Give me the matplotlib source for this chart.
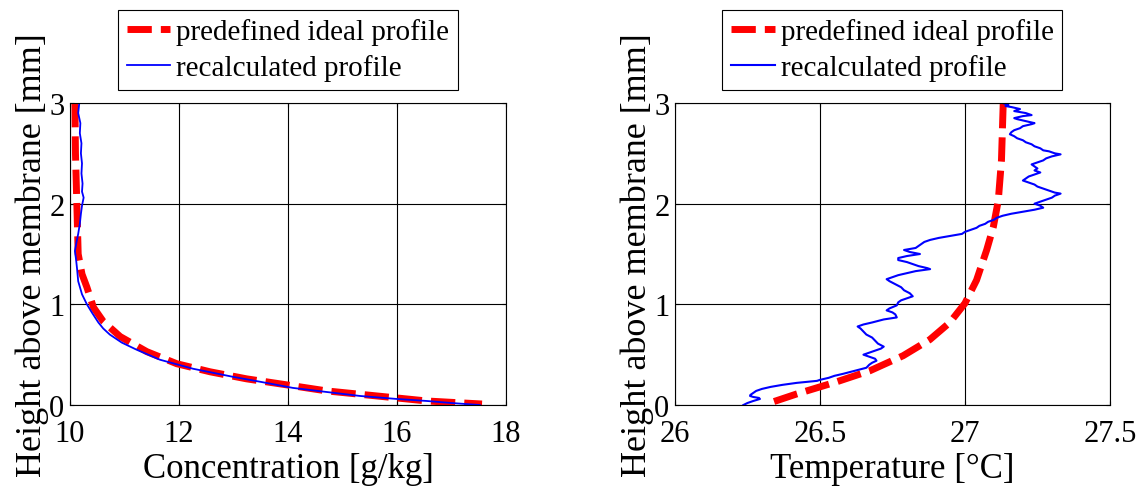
import matplotlib
matplotlib.use("Agg")
import matplotlib.pyplot as plt

plt.rcParams['font.family'] = ['Liberation Serif', 'DejaVu Serif']

# Concentration panel
conc_ideal = [10.09, 10.10, 10.12, 10.15, 10.22, 10.31, 10.43, 10.61, 10.92, 11.41,
              11.96, 12.57, 13.24, 13.98, 14.71, 15.63, 16.55, 17.56]
h_conc_ideal = [3.0, 2.5, 2.1, 1.5, 1.3, 1.17, 0.97, 0.83, 0.68, 0.53,
                0.41, 0.33, 0.26, 0.20, 0.14, 0.09, 0.04, 0.01]

conc_recalc = [10.17, 10.15, 10.19, 10.18, 10.21, 10.20, 10.22, 10.21, 10.23, 10.22,
               10.25, 10.22, 10.20, 10.18, 10.15, 10.12, 10.09, 10.11, 10.13, 10.15,
               10.22, 10.31, 10.40, 10.52, 10.61, 10.73, 10.95, 11.22, 11.65, 12.26,
               12.99, 13.50, 14.09, 14.70, 15.32, 16.00, 16.55, 17.00, 17.52]
h_conc_recalc = [3.0, 2.9, 2.8, 2.7, 2.6, 2.5, 2.4, 2.3, 2.2, 2.12,
                 2.06, 1.98, 1.9, 1.8, 1.7, 1.62, 1.53, 1.45, 1.35, 1.23,
                 1.1, 1.0, 0.92, 0.82, 0.76, 0.70, 0.62, 0.55, 0.45, 0.36,
                 0.28, 0.23, 0.17, 0.13, 0.09, 0.06, 0.04, 0.02, 0.0]

# Temperature panel
temp_ideal = [27.132, 27.126, 27.115, 27.098, 27.075, 27.04, 27.0, 26.948, 26.879,
              26.787, 26.672, 26.557, 26.42, 26.316]
h_temp_ideal = [2.99, 2.43, 2.03, 1.77, 1.54, 1.24, 1.01, 0.82, 0.65,
                0.49, 0.34, 0.23, 0.11, 0.01]

temp_recalc = [27.13, 27.15, 27.14, 27.16, 27.19, 27.17, 27.21, 27.23, 27.20, 27.17,
               27.18, 27.21, 27.24, 27.23, 27.20, 27.19, 27.17, 27.16, 27.155, 27.17,
               27.18, 27.20, 27.21, 27.23, 27.24, 27.26, 27.27, 27.29, 27.31, 27.33,
               27.30, 27.28, 27.27, 27.25, 27.23, 27.24, 27.25, 27.24, 27.26, 27.24,
               27.22, 27.21, 27.20, 27.22, 27.24, 27.25, 27.27, 27.29, 27.31, 27.33,
               27.31, 27.30, 27.28, 27.26, 27.24, 27.26, 27.27, 27.24, 27.20, 27.16,
               27.13, 27.11, 27.10, 27.08, 27.07, 27.05, 27.04, 27.02, 27.00, 26.99,
               26.95, 26.91, 26.88, 26.86, 26.85, 26.84, 26.83, 26.79, 26.81, 26.845,
               26.80, 26.77, 26.77, 26.80, 26.82, 26.84, 26.87, 26.88, 26.83, 26.80,
               26.77, 26.75, 26.73, 26.74, 26.76, 26.78, 26.79, 26.81, 26.82, 26.80,
               26.78, 26.77, 26.765, 26.74, 26.73, 26.75, 26.76, 26.765, 26.72, 26.68,
               26.65, 26.63, 26.64, 26.65, 26.66, 26.68, 26.69, 26.70, 26.72, 26.71,
               26.68, 26.65, 26.67, 26.69, 26.695, 26.68, 26.67, 26.66, 26.62, 26.58,
               26.55, 26.53, 26.50, 26.49, 26.42, 26.37, 26.33, 26.30, 26.28, 26.27,
               26.26, 26.259, 26.27, 26.29, 26.293, 26.27, 26.25, 26.236]
h_temp_recalc = [3.00, 2.98, 2.97, 2.96, 2.94, 2.92, 2.90, 2.88, 2.87, 2.85,
                 2.84, 2.82, 2.80, 2.79, 2.77, 2.75, 2.73, 2.71, 2.69, 2.67,
                 2.65, 2.63, 2.61, 2.59, 2.57, 2.55, 2.53, 2.52, 2.50, 2.49,
                 2.47, 2.45, 2.43, 2.41, 2.39, 2.37, 2.35, 2.33, 2.31, 2.29,
                 2.27, 2.25, 2.23, 2.21, 2.19, 2.17, 2.15, 2.13, 2.11, 2.10,
                 2.08, 2.06, 2.04, 2.02, 2.00, 1.98, 1.96, 1.94, 1.92, 1.90,
                 1.88, 1.86, 1.84, 1.82, 1.80, 1.78, 1.76, 1.74, 1.72, 1.70,
                 1.68, 1.66, 1.64, 1.62, 1.60, 1.58, 1.56, 1.54, 1.52, 1.50,
                 1.48, 1.46, 1.44, 1.42, 1.40, 1.38, 1.36, 1.35, 1.33, 1.31,
                 1.29, 1.27, 1.25, 1.23, 1.20, 1.17, 1.14, 1.11, 1.08, 1.06,
                 1.04, 1.02, 0.99, 0.96, 0.94, 0.92, 0.90, 0.87, 0.85, 0.82,
                 0.80, 0.78, 0.76, 0.73, 0.70, 0.67, 0.64, 0.61, 0.58, 0.56,
                 0.53, 0.50, 0.48, 0.46, 0.44, 0.42, 0.40, 0.37, 0.34, 0.31,
                 0.29, 0.27, 0.25, 0.24, 0.22, 0.20, 0.18, 0.16, 0.14, 0.12,
                 0.10, 0.09, 0.08, 0.07, 0.06, 0.04, 0.02, 0.00]

conc_ticks = [10, 12, 14, 16, 18]
temp_ticks = [26, 26.5, 27, 27.5]
temp_ticklabels = ["26", "26.5", "27", "27.5"]
h_ticks = [0, 1, 2, 3]

fig = plt.figure(figsize=(11.44, 4.89), dpi=100)
ax1 = fig.add_axes([0.0612, 0.1697, 0.3811, 0.6176])
ax2 = fig.add_axes([0.590, 0.1697, 0.3802, 0.6176])


def style_axes(ax, xticks, xlabels, xlabel):
    ax.set_ylim(0, 3)
    ax.set_yticks(h_ticks)
    ax.set_xticks(xticks)
    ax.set_xticklabels(xlabels)
    ax.grid(True, color='black', linestyle='-', linewidth=0.8)
    ax.set_axisbelow(True)
    ax.tick_params(direction='in', length=3, width=0.8, top=True, right=True,
                   labelsize=22)
    ax.tick_params(axis='x', pad=10)
    ax.tick_params(axis='y', pad=4)
    for s in ax.spines.values():
        s.set_linewidth(0.8)
        s.set_color('black')
    ax.set_xlabel(xlabel, fontsize=25, labelpad=3)
    ax.set_ylabel("Height above membrane [mm]", fontsize=26, labelpad=0)
    leg = ax.legend(loc='lower center', bbox_to_anchor=(0.5, 1.0), fontsize=21,
                    fancybox=False, edgecolor='black', framealpha=1,
                    handlelength=1.5, handletextpad=0.2, borderpad=0.3,
                    labelspacing=0.3, borderaxespad=0.45)
    leg.get_frame().set_linewidth(0.8)


ax1.plot(conc_ideal, h_conc_ideal, color='red', linewidth=5, linestyle=(0, (3.5, 1.3)),
         label='predefined ideal profile')
ax1.plot(conc_recalc, h_conc_recalc, color='blue', linewidth=1.3, label='recalculated profile')
ax1.set_xlim(10, 18)
style_axes(ax1, conc_ticks, [str(t) for t in conc_ticks], "Concentration [g/kg]")

ax2.plot(temp_ideal, h_temp_ideal, color='red', linewidth=5, linestyle=(0, (3.5, 1.3)),
         label='predefined ideal profile')
ax2.plot(temp_recalc, h_temp_recalc, color='blue', linewidth=1.5, label='recalculated profile')
ax2.set_xlim(26, 27.5)
style_axes(ax2, temp_ticks, temp_ticklabels, "Temperature [\u00b0C]")

fig.savefig("out.png", dpi=100)
